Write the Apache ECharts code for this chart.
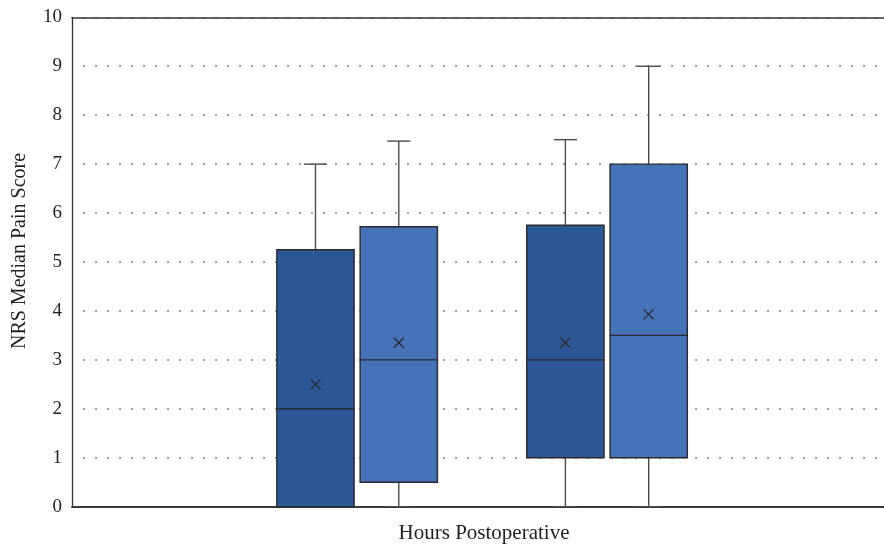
<!DOCTYPE html>
<html>
<head>
<meta charset="utf-8">
<script src="https://cdn.jsdelivr.net/npm/echarts@6/dist/echarts.min.js"></script>
<style>
  html, body { margin: 0; padding: 0; background: #fff; }
  #chart { width: 884px; height: 546px; }
</style>
</head>
<body>
<div id="chart"></div>
<script>
// ---- data ----
const timePoints = ['Time 1', 'Time 2'];          // category labels are not shown in the reference
const seriesNames = ['Group A', 'Group B'];
const yTicks = [0, 1, 2, 3, 4, 5, 6, 7, 8, 9, 10];

const groupAMin    = [0, 0];
const groupAQ1     = [0, 1];
const groupAMedian = [2, 3];
const groupAQ3     = [5.25, 5.75];
const groupAMax    = [7, 7.5];
const groupAMean   = [2.5, 3.35];

const groupBMin    = [0, 0];
const groupBQ1     = [0.5, 1];
const groupBMedian = [3, 3.5];
const groupBQ3     = [5.72, 7];
const groupBMax    = [7.47, 9];
const groupBMean   = [3.35, 3.93];

// ---- build series data ----
function rows(mins, q1s, meds, q3s, maxs, means) {
  return timePoints.map((t, i) => [i, mins[i], q1s[i], meds[i], q3s[i], maxs[i], means[i]]);
}
const dataA = rows(groupAMin, groupAQ1, groupAMedian, groupAQ3, groupAMax, groupAMean);
const dataB = rows(groupBMin, groupBQ1, groupBMedian, groupBQ3, groupBMax, groupBMean);

const GROUP_STEP = 3;      // slot distance between time points (one empty slot between groups)
const BOX_FRAC = 0.928;    // box width relative to a slot
const CAP_FRAC = 0.3;      // whisker cap relative to box width
const fillColors = ['#2c5797', '#4672b8'];
const edgeColor = '#2a2a2e';
const whiskerColor = '#4a4a4a';
const textColor = '#231f20';
const FONT = '"Liberation Serif", "DejaVu Serif", serif';

function makeRender(sIdx) {
  return function (params, api) {
    const xVal = api.value(0) * GROUP_STEP + sIdx;
    const unit = api.size([1, 0])[0];
    const bw = unit * BOX_FRAC;
    const cx = api.coord([xVal, 0])[0];
    const py = v => api.coord([xVal, v])[1];
    const vmin = api.value(1), q1 = api.value(2), med = api.value(3),
          q3 = api.value(4), vmax = api.value(5), mean = api.value(6);
    const capW = bw * CAP_FRAC;
    const children = [];
    const lineStyle = { stroke: whiskerColor, lineWidth: 1.4 };
    // upper whisker
    if (vmax > q3) {
      children.push({ type: 'line', shape: { x1: cx, y1: py(q3), x2: cx, y2: py(vmax) }, style: lineStyle });
      children.push({ type: 'line', shape: { x1: cx - capW / 2, y1: py(vmax), x2: cx + capW / 2, y2: py(vmax) }, style: lineStyle });
    }
    // lower whisker
    if (vmin < q1) {
      children.push({ type: 'line', shape: { x1: cx, y1: py(q1), x2: cx, y2: py(vmin) }, style: lineStyle });
      children.push({ type: 'line', shape: { x1: cx - capW / 2, y1: py(vmin), x2: cx + capW / 2, y2: py(vmin) }, style: lineStyle });
    }
    // box
    children.push({
      type: 'rect',
      shape: { x: cx - bw / 2, y: py(q3), width: bw, height: py(q1) - py(q3) },
      style: { fill: fillColors[sIdx], stroke: edgeColor, lineWidth: 1.4 }
    });
    // median
    children.push({ type: 'line', shape: { x1: cx - bw / 2, y1: py(med), x2: cx + bw / 2, y2: py(med) },
      style: { stroke: edgeColor, lineWidth: 1.4 } });
    // mean marker (x)
    const m = 5, my = py(mean);
    children.push({ type: 'line', shape: { x1: cx - m, y1: my - m, x2: cx + m, y2: my + m }, style: { stroke: '#2a2a2e', lineWidth: 1.3 } });
    children.push({ type: 'line', shape: { x1: cx - m, y1: my + m, x2: cx + m, y2: my - m }, style: { stroke: '#2a2a2e', lineWidth: 1.3 } });
    return { type: 'group', children: children };
  };
}

const chart = echarts.init(document.getElementById('chart'), null, { renderer: 'canvas' });
chart.setOption({
  backgroundColor: '#ffffff',
  animation: false,
  grid: { left: 72, right: 0, top: 17.3, bottom: 39.3, containLabel: false, outerBoundsMode: 'none' },
  xAxis: [{
    type: 'value',
    min: -2.923,
    max: 6.825,
    name: 'Hours Postoperative',
    nameLocation: 'middle',
    nameGap: 16,
    nameMoveOverlap: false,
    nameTextStyle: { fontFamily: FONT, fontSize: 21, color: textColor, padding: [0, 0, 0, 12] },
    axisLine: { show: true, onZero: false, lineStyle: { color: '#3a3a3a', width: 1.8 } },
    axisTick: { show: false },
    axisLabel: { show: false },
    splitLine: { show: false }
  }, {
    type: 'value',
    position: 'top',
    min: 0, max: 1,
    axisLine: { show: true, onZero: false, lineStyle: { color: '#333333', width: 1.5 } },
    axisTick: { show: false },
    axisLabel: { show: false },
    splitLine: { show: false }
  }],
  yAxis: {
    type: 'value',
    min: yTicks[0],
    max: yTicks[yTicks.length - 1],
    interval: yTicks[1] - yTicks[0],
    name: 'NRS Median Pain Score',
    nameLocation: 'middle',
    nameGap: 42,
    nameMoveOverlap: false,
    nameTextStyle: { fontFamily: FONT, fontSize: 20, color: textColor, padding: [0, 0, 0, 22] },
    axisLine: { show: true, onZero: false, lineStyle: { color: '#333333', width: 1.3 } },
    axisTick: { show: false },
    axisLabel: { fontFamily: FONT, fontSize: 19, color: textColor, margin: 10 },
    splitLine: { show: true, lineStyle: { color: '#555555', width: 1.5, type: [1.5, 10.5], dashOffset: 0.7 } }
  },
  series: [
    { name: seriesNames[0], type: 'custom', renderItem: makeRender(0), data: dataA,
      encode: { x: 0, y: [1, 2, 3, 4, 5, 6] }, z: 5 },
    { name: seriesNames[1], type: 'custom', renderItem: makeRender(1), data: dataB,
      encode: { x: 0, y: [1, 2, 3, 4, 5, 6] }, z: 5 }
  ]
});
</script>
</body>
</html>
